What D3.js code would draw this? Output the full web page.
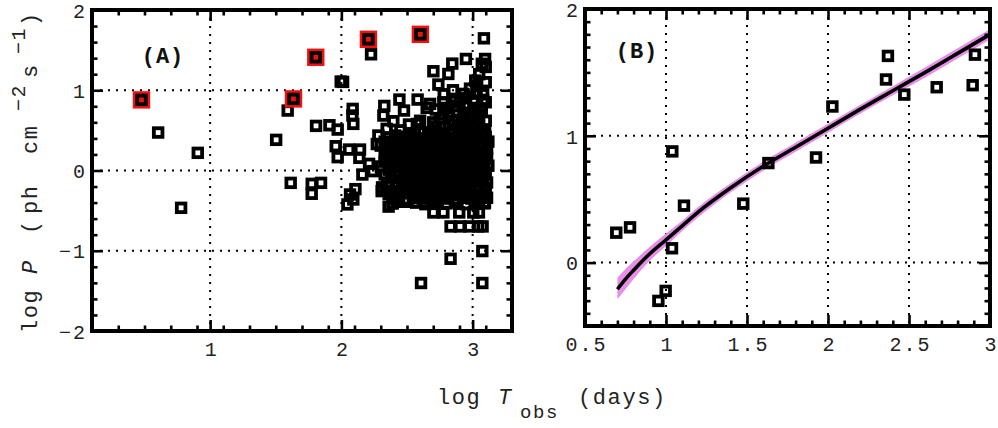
<!DOCTYPE html>
<html><head><meta charset="utf-8">
<script src="https://cdn.jsdelivr.net/npm/d3@7"></script>
<style>
body{margin:0;background:#fff}
text{font-family:"Liberation Mono","DejaVu Sans Mono",monospace;fill:#1a1a1a}
</style>
</head><body>
<svg id="chart" width="998" height="428"></svg>
<script>
// ---------------- DATA ----------------
// Panel A: open squares (log T_obs, log P)
const panelAPoints = [
  [0.604,0.473],[0.906,0.220],[0.779,-0.465],
  [1.503,0.382],[1.591,0.747],[1.614,-0.154],[1.774,-0.166],[1.845,-0.154],[1.774,-0.290],
  [1.807,0.556],[1.909,0.564],[1.972,0.510],[1.995,1.108],[2.013,1.104],[2.226,1.448],
  [2.086,0.768],[2.084,0.685],[2.091,0.581],[1.957,0.303],[1.972,0.166],[2.058,0.261],
  [2.142,0.261],[2.137,0.158],[2.211,0.083],[2.160,-0.050],[2.239,-0.008],
  [2.046,-0.423],[2.066,-0.299],[2.107,-0.232],[2.091,-0.361],
  [2.607,-1.402],[2.832,-1.100],[3.074,-1.004],[3.074,-1.402],
  [3.086,1.647],[2.949,1.390],[2.845,1.332],[2.815,1.203],[2.701,1.237],[2.739,1.071],
  [2.581,0.884],[2.442,0.884],[2.327,0.805],[2.477,0.747],[2.320,0.685],[2.396,0.614],
  [2.515,0.573],[2.345,0.519],[2.282,0.436],[2.41,0.436],[2.51,0.41],[2.27,0.33],
  [2.33,0.19],[2.42,0.125],[2.45,0.50],[2.307,-0.257],[2.391,-0.407],[2.36,-0.45],
  [2.832,-0.697],[2.904,-0.697],[2.975,-0.697],[3.043,-0.697],[3.076,-0.697],
  [2.701,-0.523],[2.777,-0.523],[2.898,-0.523],[3.005,-0.523],[3.048,-0.523],
  [2.569,-0.394],[2.637,-0.394],[3.094,-0.40],
  [2.52,0.44],[2.575,0.58],[2.625,0.477],[2.70,0.50],[2.79,0.54],[2.92,0.43],[3.095,0.477],
  [2.70,0.60],[2.85,0.62],[2.99,0.60],[2.777,0.706],[2.88,0.74],[3.07,0.77],[2.676,0.83],
  [2.777,0.85],[2.867,0.872],[2.943,0.81],[3.006,0.85],[2.85,1.0],[2.93,0.955],[3.03,0.98],
  [3.03,1.05],[3.02,1.12],[3.10,1.29],[3.095,1.39],[2.97,0.52],[3.05,0.55],[3.10,0.62],
  [2.93,0.68],[3.05,0.70],[3.10,0.85],[2.65,0.78],[2.80,0.78],[2.95,0.90],[3.08,0.95],
  [3.10,1.10],[2.60,0.62],[2.75,0.46],[2.85,0.50],[3.02,0.48],
  [2.72,0.55],[2.82,0.58],[2.90,0.56],[2.94,0.60],[3.04,0.62],[2.75,0.65],[2.82,0.68],
  [2.97,0.72],[3.00,0.66],[2.72,0.76],[2.86,0.80],[3.02,0.78],[3.08,0.88],[2.90,0.86],
  [2.98,1.02],[2.78,0.95],[3.05,1.20],[3.07,1.33],
  [2.36,0.41],[2.42,0.38],[2.48,0.42],[2.56,0.39],[2.62,0.40],[2.68,0.37],[2.74,0.42],
  [2.80,0.39],[2.86,0.41],[2.92,0.43],[2.98,0.38],[3.04,0.40],[3.10,0.42],
  [2.30,0.31],[2.38,0.28],[2.45,0.32],[2.52,0.29],[2.58,0.31],[2.64,0.27],[2.70,0.30],
  [2.76,0.32],[2.82,0.28],[2.88,0.30],[2.94,0.33],[3.00,0.29],[3.06,0.31],[3.11,0.27],
  [2.40,0.19],[2.47,0.22],[2.53,0.18],[2.59,0.21],[2.65,0.20],[2.71,0.17],[2.77,0.22],
  [2.83,0.19],[2.89,0.21],[2.95,0.18],[3.01,0.22],[3.07,0.20],[3.11,0.16],
  [2.33,0.11],[2.42,0.08],[2.50,0.12],[2.56,0.09],[2.62,0.10],[2.68,0.12],[2.74,0.08],
  [2.80,0.11],[2.86,0.09],[2.92,0.12],[2.98,0.10],[3.04,0.07],[3.09,0.11],
  [2.36,0.01],[2.44,-0.02],[2.52,0.02],[2.58,-0.01],[2.64,0.01],[2.70,-0.03],[2.76,0.02],
  [2.82,0.00],[2.88,-0.02],[2.94,0.02],[3.00,-0.01],[3.06,0.01],[3.10,-0.03],
  [2.38,-0.09],[2.46,-0.12],[2.54,-0.08],[2.60,-0.11],[2.66,-0.10],[2.72,-0.08],
  [2.78,-0.12],[2.84,-0.09],[2.90,-0.11],[2.96,-0.08],[3.02,-0.12],[3.08,-0.10],
  [2.31,-0.21],[2.42,-0.18],[2.50,-0.22],[2.57,-0.19],[2.63,-0.21],[2.69,-0.18],[2.75,-0.20],
  [2.81,-0.22],[2.87,-0.19],[2.93,-0.21],[2.99,-0.18],[3.05,-0.20],[3.10,-0.22],
  [2.36,-0.29],[2.44,-0.32],[2.52,-0.28],[2.60,-0.31],[2.66,-0.29],[2.72,-0.32],
  [2.78,-0.30],[2.84,-0.28],[2.90,-0.31],[2.96,-0.29],[3.02,-0.32],[3.08,-0.30],
  [2.39,-0.41],[2.48,-0.39],[2.57,-0.40],[2.64,-0.42],[2.72,-0.39],[2.80,-0.41],
  [2.88,-0.40],[2.95,-0.42],[3.03,-0.39],[3.09,-0.41],
  [2.53,0.46],[2.66,0.45],[2.72,0.47],[2.78,0.44],[2.83,0.46],[2.89,0.45],[2.95,0.47],[3.01,0.44],[3.07,0.46],
  [2.33,0.36],[2.39,0.34],[2.45,0.37],[2.51,0.35],[2.59,0.34],[2.65,0.36],[2.71,0.35],
  [2.77,0.37],[2.83,0.34],[2.89,0.36],[2.95,0.35],[3.01,0.36],[3.07,0.34],[3.12,0.36],
  [2.35,0.24],[2.43,0.26],[2.49,0.25],[2.56,0.24],[2.62,0.26],[2.68,0.24],[2.74,0.25],
  [2.80,0.26],[2.86,0.24],[2.92,0.25],[2.98,0.26],[3.04,0.24],[3.09,0.25],
  [2.37,0.15],[2.44,0.14],[2.50,0.16],[2.56,0.15],[2.62,0.14],[2.68,0.16],[2.74,0.15],
  [2.80,0.14],[2.86,0.16],[2.92,0.15],[2.98,0.14],[3.04,0.16],[3.10,0.15],
  [2.30,0.05],[2.39,0.06],[2.47,0.04],[2.53,0.05],[2.59,0.06],[2.65,0.04],[2.71,0.05],
  [2.77,0.06],[2.83,0.04],[2.89,0.05],[2.95,0.06],[3.01,0.04],[3.07,0.05],[3.12,0.06],
  [2.33,-0.05],[2.41,-0.06],[2.49,-0.04],[2.55,-0.05],[2.61,-0.06],[2.67,-0.04],[2.73,-0.05],
  [2.79,-0.06],[2.85,-0.04],[2.91,-0.05],[2.97,-0.06],[3.03,-0.04],[3.09,-0.05],
  [2.35,-0.15],[2.43,-0.16],[2.51,-0.14],[2.57,-0.15],[2.63,-0.16],[2.69,-0.14],[2.75,-0.15],
  [2.81,-0.16],[2.87,-0.14],[2.93,-0.15],[2.99,-0.16],[3.05,-0.14],[3.11,-0.15],
  [2.34,-0.25],[2.40,-0.26],[2.47,-0.24],[2.55,-0.25],[2.61,-0.26],[2.67,-0.24],[2.73,-0.25],
  [2.79,-0.26],[2.85,-0.24],[2.91,-0.25],[2.97,-0.26],[3.03,-0.24],[3.09,-0.25],
  [2.40,-0.35],[2.48,-0.36],[2.55,-0.34],[2.62,-0.35],[2.69,-0.36],[2.75,-0.34],
  [2.81,-0.35],[2.87,-0.36],[2.93,-0.34],[2.99,-0.35],[3.05,-0.36],[3.11,-0.34]
];
// Panel A: highlighted (red) squares
const panelARed = [[0.477,0.880],[1.635,0.892],[1.805,1.411],[2.206,1.635],[2.602,1.697]];

// Panel B: open squares
const panelBPoints = [
  [0.693,0.236],[0.778,0.278],[0.953,-0.302],[0.998,-0.223],[1.039,0.877],[1.037,0.113],
  [1.111,0.449],[1.477,0.465],[1.632,0.785],[1.926,0.829],[2.027,1.231],[2.358,1.444],
  [2.370,1.630],[2.471,1.325],[2.671,1.383],[2.893,1.399],[2.907,1.640]
];
// Panel B: fitted curve and its uncertainty band
const fitX   = [0.70,0.75,0.80,0.90,1.00,1.10,1.20,1.40,1.60,1.80,2.00,2.20,2.40,2.60,2.80,3.00];
const fitY   = [-0.21,-0.13,-0.06,0.07,0.18,0.29,0.40,0.59,0.76,0.91,1.06,1.21,1.355,1.50,1.65,1.80];
const bandHi = [-0.12,-0.05,0.01,0.125,0.23,0.33,0.44,0.625,0.795,0.945,1.095,1.245,1.39,1.54,1.69,1.84];
const bandLo = [-0.29,-0.21,-0.13,0.015,0.13,0.25,0.36,0.555,0.725,0.875,1.025,1.175,1.32,1.46,1.61,1.76];

// Ticks
const aXMajor = [1,2,3];
const aYMajor = [-2,-1,0,1,2];
const bXMajor = [0.5,1,1.5,2,2.5,3];
const bYMajor = [0,1,2];

// ---------------- DRAW ----------------
const svg = d3.select("#chart");

function range(a, b, step) { const r=[]; for (let v=a; v<=b+1e-9; v+=step) r.push(+v.toFixed(4)); return r; }

function drawFrame(g, x, y, xMaj, yMaj, xMinorStep, yMinorStep, fmtX, fmtY) {
  const [x0,x1] = x.range(), [y0,y1] = y.range(); // y0 bottom, y1 top
  const grid = g.append("g").attr("stroke","#000").attr("stroke-width",2).attr("stroke-dasharray","2,6");
  xMaj.forEach(v => { const px=x(v); if (px>x0+3 && px<x1-3) grid.append("line").attr("x1",px).attr("x2",px).attr("y1",y1).attr("y2",y0); });
  yMaj.forEach(v => { const py=y(v); if (py<y0-3 && py>y1+3) grid.append("line").attr("x1",x0).attr("x2",x1).attr("y1",py).attr("y2",py); });
  return function finish() {
    const dx = x.domain(), dy = y.domain();
    const xMin = range(dx[0], dx[1], xMinorStep).filter(v => !xMaj.some(m => Math.abs(m-v)<1e-6));
    const yMin = range(dy[0], dy[1], yMinorStep).filter(v => !yMaj.some(m => Math.abs(m-v)<1e-6));
    const style = s => { s.select(".domain").remove(); s.selectAll("line").attr("stroke","#000").attr("stroke-width",2.6); };
    const lab = s => s.selectAll("text").style("font-size","20px").style("letter-spacing","2px").style("fill","#222");
    g.append("g").attr("transform",`translate(0,${y0})`).call(d3.axisBottom(x).tickValues(xMaj).tickSize(-11).tickPadding(11).tickFormat(fmtX)).call(style).call(lab)
      .selectAll("text").attr("dx","1px");
    g.append("g").attr("transform",`translate(0,${y0})`).call(d3.axisBottom(x).tickValues(xMin).tickSize(-5.5).tickFormat("")).call(style);
    g.append("g").attr("transform",`translate(0,${y1})`).call(d3.axisTop(x).tickValues(xMaj).tickSize(-11).tickFormat("")).call(style);
    g.append("g").attr("transform",`translate(0,${y1})`).call(d3.axisTop(x).tickValues(xMin).tickSize(-5.5).tickFormat("")).call(style);
    g.append("g").attr("transform",`translate(${x0},0)`).call(d3.axisLeft(y).tickValues(yMaj).tickSize(-11).tickPadding(5).tickFormat(fmtY)).call(style).call(lab)
      .selectAll("text").attr("dy","0.36em");
    g.append("g").attr("transform",`translate(${x0},0)`).call(d3.axisLeft(y).tickValues(yMin).tickSize(-5.5).tickFormat("")).call(style);
    g.append("g").attr("transform",`translate(${x1},0)`).call(d3.axisRight(y).tickValues(yMaj).tickSize(-11).tickFormat("")).call(style);
    g.append("g").attr("transform",`translate(${x1},0)`).call(d3.axisRight(y).tickValues(yMin).tickSize(-5.5).tickFormat("")).call(style);
    g.append("rect").attr("x",x0).attr("y",y1).attr("width",x1-x0).attr("height",y0-y1)
      .attr("fill","none").attr("stroke","#000").attr("stroke-width",4);
  };
}

function openSquares(g, data, x, y) {
  g.append("g").selectAll("rect").data(data).join("rect")
    .attr("x", d => x(d[0]) - 4.3).attr("y", d => y(d[1]) - 4.3)
    .attr("width", 8.6).attr("height", 8.6)
    .attr("fill","none").attr("stroke","#000").attr("stroke-width",3.8);
}

const fmtNum = d => (d < 0 ? "\u2212" : "") + Math.abs(d);

// ---- Panel A ----
const xA = d3.scaleLinear().domain([0.1, 3.3]).range([92, 512]);
const yA = d3.scaleLinear().domain([-2, 2]).range([331, 10]);
const gA = svg.append("g");
const finishA = drawFrame(gA, xA, yA, aXMajor, aYMajor, 0.2, 0.2, fmtNum, fmtNum);
openSquares(gA, panelAPoints, xA, yA);
const red = gA.append("g").selectAll("g").data(panelARed).join("g")
  .attr("transform", d => `translate(${xA(d[0])},${yA(d[1])})`);
red.append("rect").attr("x",-8.7).attr("y",-8.7).attr("width",17.4).attr("height",17.4).attr("fill","#f21010");
red.append("rect").attr("x",-4.3).attr("y",-4.3).attr("width",8.6).attr("height",8.6)
  .attr("fill","none").attr("stroke","#000").attr("stroke-width",3.8);
finishA();
gA.append("text").attr("x",163).attr("y",63).attr("text-anchor","middle")
  .style("font-size","22px").style("font-weight","bold").style("letter-spacing","1px").style("fill","#111").text("(A)");

// ---- Panel B ----
const xB = d3.scaleLinear().domain([0.5, 3]).range([585, 990]);
const yB = d3.scaleLinear().domain([-0.5, 2]).range([326, 9]);
const gB = svg.append("g");
const finishB = drawFrame(gB, xB, yB, bXMajor, bYMajor, 0.1, 0.1, d => String(d), d => String(d));
const fitData = fitX.map((v,i) => ({x:v, y:fitY[i], lo:bandLo[i], hi:bandHi[i]}));
gB.append("path").datum(fitData)
  .attr("d", d3.area().x(d => xB(d.x)).y0(d => yB(d.lo)).y1(d => yB(d.hi)).curve(d3.curveMonotoneX))
  .attr("fill","#e68ee8");
gB.append("path").datum(fitData)
  .attr("d", d3.line().x(d => xB(d.x)).y(d => yB(d.y)).curve(d3.curveMonotoneX))
  .attr("fill","none").attr("stroke","#000").attr("stroke-width",3.6);
openSquares(gB, panelBPoints, xB, yB);
finishB();
gB.append("text").attr("x",637).attr("y",58).attr("text-anchor","middle")
  .style("font-size","22px").style("font-weight","bold").style("letter-spacing","1px").style("fill","#111").text("(B)");

// ---- Axis titles ----
const xt = svg.append("text").attr("y",404).style("font-size","22px").style("letter-spacing","1.6px").style("fill","#222");
xt.append("tspan").attr("x",437).text("log");
xt.append("tspan").attr("x",498).style("font-style","italic").text("T");
xt.append("tspan").attr("x",520).attr("dy",14).style("font-size","19px").text("obs");
xt.append("tspan").attr("x",578).attr("dy",-14).text("(days)");

const yt = svg.append("g").attr("transform","translate(37,0) rotate(-90)")
  .append("text").attr("y",0).style("font-size","22px").style("letter-spacing","1.6px").style("fill","#222");
yt.append("tspan").attr("x",-333).text("log");
yt.append("tspan").attr("x",-274).style("font-style","italic").text("P");
yt.append("tspan").attr("x",-234).text("(");
yt.append("tspan").attr("x",-214).text("ph");
yt.append("tspan").attr("x",-154).text("cm");
yt.append("tspan").attr("x",-111).attr("dy",-12).style("font-size","20px").text("\u22122");
yt.append("tspan").attr("x",-78).attr("dy",12).text("s");
yt.append("tspan").attr("x",-54).attr("dy",-12).style("font-size","20px").text("\u22121");
yt.append("tspan").attr("x",-26).attr("dy",12).text(")");
</script>
</body></html>
